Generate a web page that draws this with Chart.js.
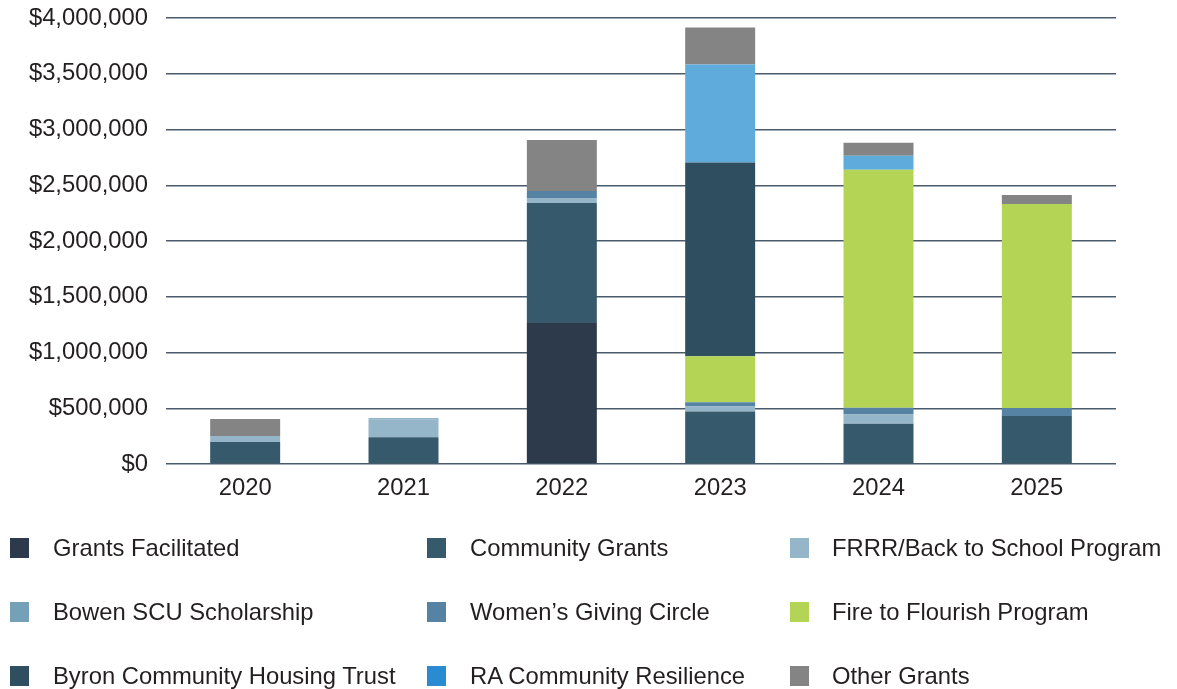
<!DOCTYPE html>
<html>
<head>
<meta charset="utf-8">
<script src="https://cdn.jsdelivr.net/npm/chart.js@4.4.1/dist/chart.umd.min.js"></script>
<style>
  html, body { margin: 0; padding: 0; background: #ffffff; }
  body { width: 1177px; height: 689px; position: relative; overflow: hidden; font-family: "Liberation Sans", Arial, Helvetica, sans-serif; }
  #wrap { position: absolute; left: 0; top: 0; width: 1177px; height: 510px; }
  #legend { position: absolute; left: 0; top: 0; width: 1177px; height: 689px; pointer-events: none; }
  .item { position: absolute; display: flex; align-items: center; height: 30px; font-size: 23.8px; color: #231f20; white-space: nowrap; }
  .sw { width: 19px; height: 20px; flex: none; }
</style>
</head>
<body>
<div id="wrap"><canvas id="c" width="1177" height="510"></canvas></div>
<div id="legend"></div>
<script>
const categories = ["2020", "2021", "2022", "2023", "2024", "2025"];

const grantsFacilitated   = [0, 0, 1265000, 0, 0, 0];
const communityGrants     = [197000, 240000, 1075000, 470000, 360000, 430000];
const frrrBackToSchool    = [54000, 161000, 45000, 45000, 84000, 0];
const bowenScholarship    = [0, 9000, 0, 0, 0, 0];
const womensGivingCircle  = [0, 0, 63000, 39000, 60000, 72000];
const fireToFlourish      = [0, 0, 0, 413000, 2135000, 1830000];
const byronHousingTrust   = [0, 0, 0, 1737000, 0, 0];
const raResilience        = [0, 0, 0, 879000, 126000, 0];
const otherGrants         = [152000, 0, 457000, 332000, 117000, 81000];

const seriesNames = [
  "Grants Facilitated", "Community Grants", "FRRR/Back to School Program",
  "Bowen SCU Scholarship", "Women\u2019s Giving Circle", "Fire to Flourish Program",
  "Byron Community Housing Trust", "RA Community Resilience", "Other Grants"
];
const seriesValues = [
  grantsFacilitated, communityGrants, frrrBackToSchool,
  bowenScholarship, womensGivingCircle, fireToFlourish,
  byronHousingTrust, raResilience, otherGrants
];
const barColors = ["#2c3a4b", "#36596c", "#95b5c8", "#6f9ab5", "#5683a3", "#b4d455", "#2f4f61", "#5eabdc", "#848484"];
const legendColors = ["#2c3a4b", "#36596c", "#95b5c8", "#74a0b8", "#5683a3", "#b4d455", "#2f4f61", "#2a8ad2", "#848484"];

const yTickValues = [0, 500000, 1000000, 1500000, 2000000, 2500000, 3000000, 3500000, 4000000];

const FONT = '"Liberation Sans", Arial, Helvetica, sans-serif';

const datasets = seriesNames.map((name, i) => ({
  label: name,
  data: seriesValues[i],
  backgroundColor: barColors[i],
  borderWidth: 0,
  barPercentage: 0.442,
  categoryPercentage: 1.0,
  stack: "s"
}));

const chart = new Chart(document.getElementById("c"), {
  type: "bar",
  data: { labels: categories, datasets },
  options: {
    responsive: false,
    animation: false,
    devicePixelRatio: 1,
    layout: { padding: { top: 18, right: 61, left: 0, bottom: 0 } },
    plugins: { legend: { display: false }, tooltip: { enabled: false } },
    scales: {
      x: {
        stacked: true,
        grid: { display: false, drawTicks: false },
        border: { display: false },
        ticks: { color: "#231f20", font: { family: FONT, size: 23.8 }, padding: 10 },
        afterFit: s => { s.height = 46; s.paddingLeft = 0; s.paddingRight = 0; }
      },
      y: {
        stacked: true,
        min: 0, max: 4000000,
        afterBuildTicks: s => { s.ticks = yTickValues.map(v => ({ value: v })); },
        grid: { color: "#4a5c6c", lineWidth: 1.5, drawTicks: false },
        border: { display: false },
        ticks: {
          color: "#231f20",
          font: { family: FONT, size: 23.8 },
          padding: 18,
          callback: v => "$" + Number(v).toLocaleString("en-US")
        },
        afterFit: s => { s.width = 166; s.paddingTop = 0; s.paddingBottom = 0; }
      }
    }
  }
});

// HTML legend built from the chart's datasets
const legendPos = [
  { x: 10, tx: 53 }, { x: 427, tx: 470 }, { x: 790, tx: 832 }
];
const rowY = [548, 612, 676];
const leg = document.getElementById("legend");
chart.data.datasets.forEach((ds, i) => {
  const col = i % 3, row = Math.floor(i / 3);
  const el = document.createElement("div");
  el.className = "item";
  el.style.left = legendPos[col].x + "px";
  el.style.top = (rowY[row] - 15) + "px";
  const sw = document.createElement("span");
  sw.className = "sw";
  sw.style.background = legendColors[i];
  sw.style.marginRight = (legendPos[col].tx - legendPos[col].x - 19) + "px";
  const tx = document.createElement("span");
  tx.textContent = ds.label;
  el.appendChild(sw); el.appendChild(tx);
  leg.appendChild(el);
});
</script>
</body>
</html>
